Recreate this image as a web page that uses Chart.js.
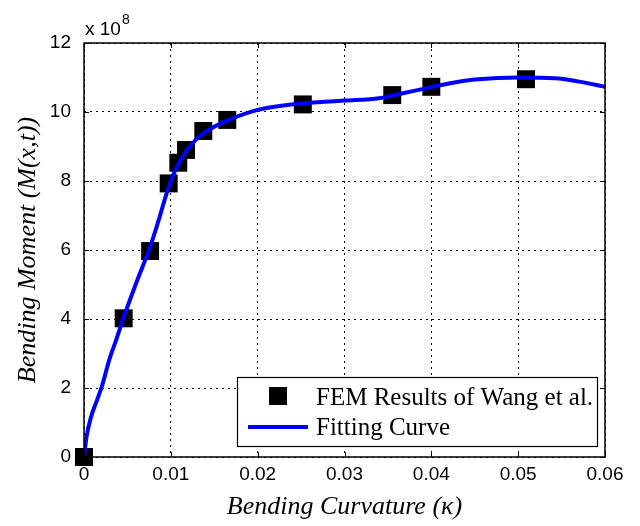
<!DOCTYPE html>
<html>
<head>
<meta charset="utf-8">
<script src="https://cdn.jsdelivr.net/npm/chart.js@4.4.1/dist/chart.umd.min.js"></script>
<style>
  html, body { margin: 0; padding: 0; background: #fff; }
</style>
</head>
<body>
<canvas id="momentChart" width="640" height="526"></canvas>
<script>
// FEM results (markers)
const femX = [0, 0.00457, 0.00761, 0.00975, 0.01086, 0.01175, 0.01374, 0.0165, 0.0252, 0.0355, 0.0400, 0.0509];
const femY = [0, 4.02, 5.97, 7.93, 8.53, 8.90, 9.45, 9.77, 10.22, 10.49, 10.73, 10.95];

// fitting curve
const curveX = [0, 0.0003, 0.0008, 0.0015, 0.0021, 0.0029, 0.0037, 0.0045, 0.0058, 0.0068, 0.0077, 0.0087, 0.0094, 0.0104, 0.0116, 0.0129, 0.0145, 0.0167,
                0.0200, 0.0251, 0.0300, 0.0340, 0.0370, 0.0400, 0.0425, 0.0454, 0.0500, 0.0543, 0.0570, 0.0600];
const curveY = [0, 0.60, 1.15, 1.65, 2.08, 2.81, 3.39, 4.00, 4.90, 5.55, 6.15, 6.95, 7.55, 8.25, 8.80, 9.20, 9.50, 9.77,
                10.06, 10.25, 10.33, 10.40, 10.56, 10.72, 10.85, 10.95, 11.00, 10.98, 10.88, 10.73];

const xTickLabels = ['0', '0.01', '0.02', '0.03', '0.04', '0.05', '0.06'];
const yTickLabels = ['0', '2', '4', '6', '8', '10', '12'];

const legendLabels = ['FEM Results of Wang et al.', 'Fitting Curve'];

// frame, inward ticks, exponent label and legend box (MATLAB look)
const matlabDecor = {
    id: 'matlabDecor',
    afterDraw(chart) {
        const ctx = chart.ctx;
        const a = chart.chartArea;
        const xs = chart.scales.x, ys = chart.scales.y;
        ctx.save();
        ctx.strokeStyle = '#000';
        ctx.lineWidth = 1;
        ctx.beginPath();
        xs.ticks.forEach(t => {
            const px = Math.round(xs.getPixelForValue(t.value)) + 0.5;
            ctx.moveTo(px, a.bottom); ctx.lineTo(px, a.bottom - 5);
            ctx.moveTo(px, a.top); ctx.lineTo(px, a.top + 5);
        });
        ys.ticks.forEach(t => {
            const py = Math.round(ys.getPixelForValue(t.value)) + 0.5;
            ctx.moveTo(a.left, py); ctx.lineTo(a.left + 5, py);
            ctx.moveTo(a.right, py); ctx.lineTo(a.right - 5, py);
        });
        ctx.stroke();
        ctx.lineWidth = 1.5;
        ctx.strokeRect(a.left, a.top, a.right - a.left, a.bottom - a.top);

        // x 10^8
        ctx.fillStyle = '#000';
        ctx.font = '19px "Liberation Sans", Arial, sans-serif';
        ctx.textBaseline = 'alphabetic';
        ctx.fillText('x 10', a.left + 1, a.top - 8);
        ctx.font = '14px "Liberation Sans", Arial, sans-serif';
        ctx.fillText('8', a.left + 38, a.top - 19);

        // legend
        const lx = 237, ly = 377, lw = 360, lh = 69;
        ctx.fillStyle = '#fff';
        ctx.fillRect(lx, ly, lw, lh);
        ctx.lineWidth = 1.2;
        ctx.strokeStyle = '#000';
        ctx.strokeRect(lx + 0.5, ly + 0.5, lw, lh);
        ctx.fillStyle = '#000';
        ctx.fillRect(278 - 9, 396 - 9, 18, 18);
        ctx.strokeStyle = '#0000ff';
        ctx.lineWidth = 4;
        ctx.beginPath();
        ctx.moveTo(248, 427); ctx.lineTo(308, 427);
        ctx.stroke();
        ctx.fillStyle = '#000';
        ctx.font = '25px "Liberation Serif", "Times New Roman", serif';
        ctx.fillText(legendLabels[0], 316, 405);
        ctx.fillText(legendLabels[1], 316, 435);
        ctx.restore();
    }
};

const ctx = document.getElementById('momentChart').getContext('2d');
const momentChart = new Chart(ctx, {
    type: 'scatter',
    data: {
        datasets: [
            {
                label: legendLabels[1],
                data: curveX.map((x, i) => ({ x: x, y: curveY[i] })),
                showLine: true,
                borderColor: '#0000ff',
                borderWidth: 4,
                pointRadius: 0,
                cubicInterpolationMode: 'monotone',
                fill: false,
                order: 0
            },
            {
                label: legendLabels[0],
                data: femX.map((x, i) => ({ x: x, y: femY[i] })),
                showLine: false,
                pointStyle: 'rect',
                pointRadius: 12.7,
                backgroundColor: '#000',
                borderColor: '#000',
                borderWidth: 0,
                clip: false,
                order: 1
            }
        ]
    },
    options: {
        responsive: false,
        animation: false,
        layout: { padding: { top: 43, right: 35, left: 0, bottom: 0 } },
        plugins: {
            legend: { display: false },
            tooltip: { enabled: false }
        },
        scales: {
            x: {
                type: 'linear',
                min: 0, max: 0.06,
                afterFit: s => { s.height = 69; },
                ticks: {
                    stepSize: 0.01,
                    color: '#000',
                    padding: 6,
                    maxRotation: 0,
                    font: { family: '"Liberation Sans", Arial, sans-serif', size: 19 },
                    callback: (v, i) => xTickLabels[i]
                },
                grid: { color: '#000', lineWidth: 1, drawTicks: false, tickLength: 0 },
                border: { display: false, dash: [2, 4] },
                title: {
                    display: true,
                    text: 'Bending Curvature (κ)',
                    color: '#000',
                    padding: { top: 0, bottom: 3 },
                    font: { family: '"Liberation Serif", "Times New Roman", serif', size: 26, style: 'italic' }
                }
            },
            y: {
                type: 'linear',
                min: 0, max: 12,
                afterFit: s => { s.width = 84; },
                ticks: {
                    stepSize: 2,
                    color: '#000',
                    padding: 13,
                    font: { family: '"Liberation Sans", Arial, sans-serif', size: 19 },
                    callback: (v, i) => yTickLabels[i]
                },
                grid: { color: '#000', lineWidth: 1, drawTicks: false, tickLength: 0 },
                border: { display: false, dash: [2, 4] },
                title: {
                    display: true,
                    text: 'Bending Moment (M(x,t))',
                    color: '#000',
                    padding: { top: 13, bottom: 0 },
                    font: { family: '"Liberation Serif", "Times New Roman", serif', size: 26, style: 'italic' }
                }
            }
        }
    },
    plugins: [matlabDecor]
});
</script>
</body>
</html>
